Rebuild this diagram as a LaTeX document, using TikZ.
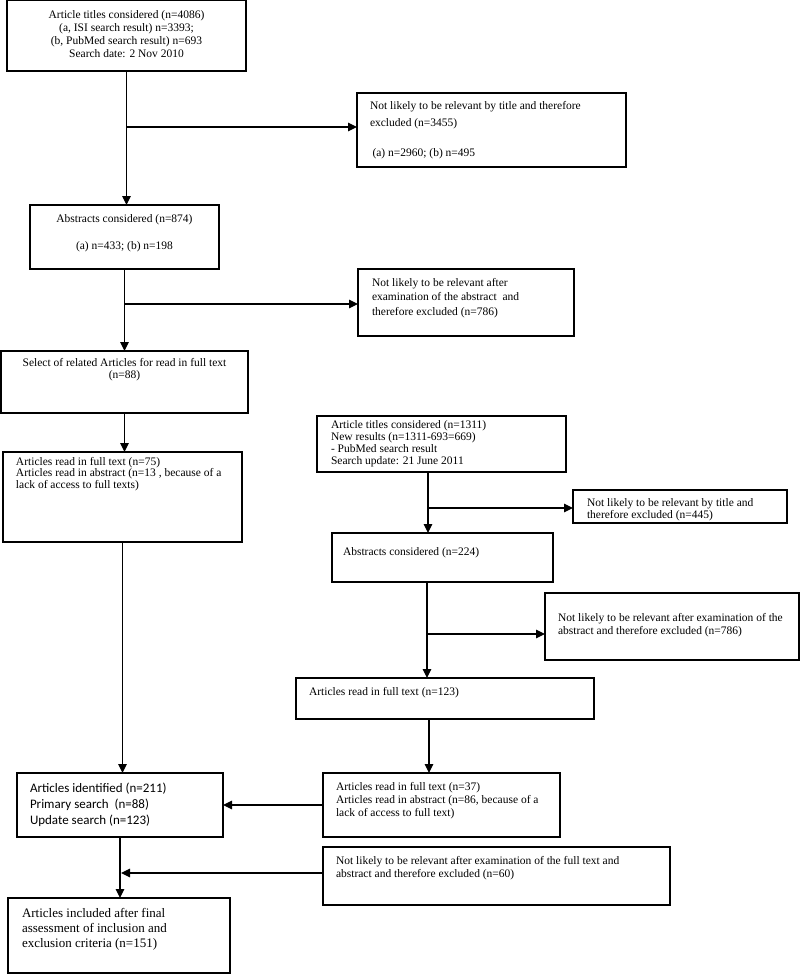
\documentclass[tikz,border=0pt]{standalone}
\usepackage{fontspec}
\setmainfont{Liberation Serif}
\newfontfamily\calib{Carlito}
\usetikzlibrary{arrows.meta}
\newcommand\mybox[5]{\node[boxst, minimum width={(#4-#2)*1pt}, minimum height={(#5-#3)*1pt}] (#1) at (#2,#3) {};}
\begin{document}
\begin{tikzpicture}[x=1pt,y=-1pt,
  boxst/.style={draw, line width=1.1pt, inner sep=0pt, outer sep=0pt, anchor=north west},
  txt/.style={inner sep=0pt, outer sep=0pt, anchor=north west, align=left},
  ctxt/.style={inner sep=0pt, outer sep=0pt, anchor=north, align=center},
  arr/.style={line width=1.2pt, -{Triangle[length=9pt,width=8.5pt]}},
  ln/.style={line width=1.2pt}]
\useasboundingbox (0,0) rectangle (800,974);
% boxes
\mybox{b1}{7}{0.8}{246}{71}
\mybox{b2}{357}{93}{626}{167}
\mybox{b3}{30}{205}{219}{269}
\mybox{b4}{358}{269}{574}{336}
\mybox{b5}{1}{351}{248}{413}
\mybox{b6}{3}{452}{242}{542}
\mybox{b8}{317}{416}{566}{472}
\mybox{b9}{573}{490}{787}{523}
\mybox{b10}{332}{533}{553}{582}
\mybox{b11}{545}{593}{799}{660}
\mybox{b12}{296}{678}{594}{719}
\mybox{b13}{323}{773}{560}{837}
\mybox{b14}{323}{847}{670}{905}
\mybox{b7}{17}{773}{223}{837}
\mybox{b15}{8}{898}{230}{973}
% texts
\node[ctxt, font=\fontsize{11.5}{13}\selectfont] (t1) at (126.5,10.2) {Article titles considered (n=4086)\\(a, ISI search result) n=3393;\\(b, PubMed search result) n=693\\Search date: 2 Nov 2010};
\node[txt, font=\fontsize{11.5}{17}\selectfont] (t2) at (370,101.2) {Not likely to be relevant by title and therefore\\excluded (n=3455)\\[13pt]\hspace{2.5pt}(a) n=2960; (b) n=495};
\node[ctxt, font=\fontsize{11.5}{13}\selectfont] (t3) at (124.5,214.2) {Abstracts considered (n=874)\\[14pt](a) n=433; (b) n=198};
\node[txt, font=\fontsize{11.5}{14.5}\selectfont] (t4) at (372,278.2) {Not likely to be relevant after\\examination of the abstract\ \ and\\therefore excluded (n=786)};
\node[ctxt, font=\fontsize{11.5}{12.5}\selectfont] (t5) at (124.5,358) {Select of related Articles for read in full text\\(n=88)};
\node[txt, font=\fontsize{11.5}{11.5}\selectfont] (t6) at (16,457.2) {Articles read in full text (n=75)\\Articles read in abstract (n=13 , because of a\\lack of access to full texts)};
\node[txt, font=\fontsize{11.5}{11.7}\selectfont] (t8) at (331,421) {Article titles considered (n=1311)\\New results (n=1311-693=669)\\- PubMed search result\\Search update: 21 June 2011};
\node[txt, font=\fontsize{11.5}{11.5}\selectfont] (t9) at (587,499) {Not likely to be relevant by title and\\therefore excluded (n=445)};
\node[txt, font=\fontsize{11.5}{13}\selectfont] (t10) at (343,548) {Abstracts considered (n=224)};
\node[txt, font=\fontsize{11.5}{13}\selectfont] (t11) at (558,613) {Not likely to be relevant after examination of the\\abstract and therefore excluded (n=786)};
\node[txt, font=\fontsize{11.5}{13}\selectfont] (t12) at (309,687) {Articles read in full text (n=123)};
\node[txt, font=\fontsize{11.5}{13}\selectfont] (t13) at (336,782) {Articles read in full text (n=37)\\Articles read in abstract (n=86, because of a\\lack of access to full text)};
\node[txt, font=\fontsize{11.5}{13}\selectfont] (t14) at (336,856) {Not likely to be relevant after examination of the full text and\\abstract and therefore excluded (n=60)};
\node[txt, font=\calib\fontsize{13}{16}\selectfont] (t7) at (30,782.5) {Articles identified (n=211)\\Primary search\ \ (n=88)\\Update search (n=123)};
\node[txt, font=\fontsize{13}{15}\selectfont] (t15) at (22,908.5) {Articles included after final\\assessment of inclusion and\\exclusion criteria (n=151)};
% junctions
\coordinate (j1) at (126.5,127);
\coordinate (j2) at (124.5,304);
\coordinate (j3) at (428,508);
\coordinate (j4) at (427,634);
\coordinate (j5) at (429,746);
\coordinate (j6) at (121,873);
% connectors
\draw[arr] (b1.south) -- (b1.south |- b3.north);
\draw[arr] (j1) -- (j1 -| b2.west);
\draw[arr] (b3.south) -- (b3.south |- b5.north);
\draw[arr] (j2) -- (j2 -| b4.west);
\draw[arr] (b5.south) -- (b5.south |- b6.north);
\draw[arr] (b6.south) -- (b6.south |- b7.north);
\draw[arr] (j3 |- b8.south) -- (j3 |- b10.north);
\draw[arr] (j3) -- (j3 -| b9.west);
\draw[arr] (j4 |- b10.south) -- (j4 |- b12.north);
\draw[arr] (j4) -- (j4 -| b11.west);
\draw[arr] (j5 |- b12.south) -- (j5 |- b13.north);
\draw[arr] (b13.west) -- (b13.west -| b7.east);
\draw[arr] (b7.south) -- (b7.south |- b15.north);
\draw[arr] (j6 -| b14.west) -- (j6);
\end{tikzpicture}
\end{document}
